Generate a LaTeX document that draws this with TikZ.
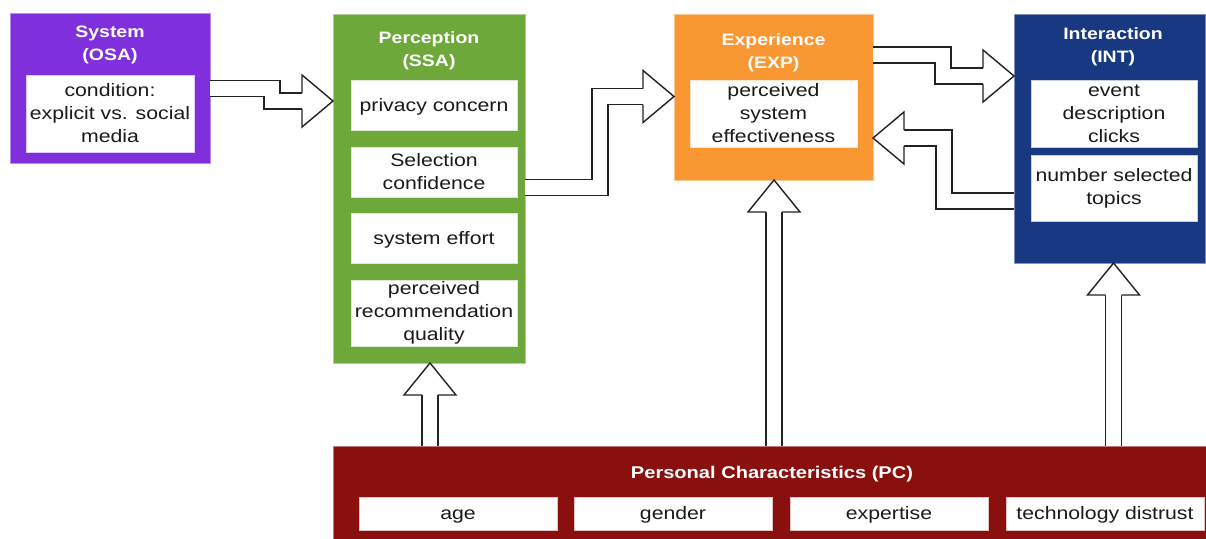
\documentclass[tikz,border=0pt]{standalone}
\usepackage{fontspec}
\setmainfont{Liberation Sans}[FakeStretch=1.18]
\usetikzlibrary{calc}
\definecolor{osac}{HTML}{7F2FDC}
\definecolor{ssac}{HTML}{6FA83A}
\definecolor{expc}{HTML}{F99733}
\definecolor{intc}{HTML}{193882}
\definecolor{pcc}{HTML}{8A1010}
\definecolor{txt}{HTML}{1A1A1A}
\definecolor{arr}{HTML}{222222}
\tikzset{
  bigbox/.style={draw=#1!55!white, fill=#1, line width=1pt, anchor=north west, inner sep=0pt, outer sep=0pt},
  inbox/.style={draw=#1!25!white, fill=white, line width=1pt, anchor=north west, inner sep=0pt, outer sep=0pt,
    align=center, text=txt, font=\fontsize{18}{23}\selectfont},
  oneline/.style={text height=15pt, text depth=3pt},
  ttl/.style={text=white, align=center, inner sep=0pt, font=\bfseries\fontsize{16.5}{23}\selectfont},
  shaft/.style={draw=arr, line width=1.4pt, double=white, double distance=14.4pt, line cap=butt, line join=miter},
  headst/.style={draw=arr, fill=white, line width=1.4pt, line join=miter},
  hR/.pic={\filldraw[headst] (-31,-8) -- (-31,-26) -- (0,0) -- (-31,26) -- (-31,8);},
  hL/.pic={\filldraw[headst] (31,-8) -- (31,-26) -- (0,0) -- (31,26) -- (31,8);},
  hU/.pic={\filldraw[headst] (-8,32) -- (-26,32) -- (0,0) -- (26,32) -- (8,32);},
}
\begin{document}
\begin{tikzpicture}[x=1pt,y=-1pt]
\clip (0,0) rectangle (1206,538);
\fill[white] (0,0) rectangle (1206,538);
% System
\node[bigbox=osac, minimum width=200, minimum height=150] (osa) at (10,13) {};
\node[ttl] (osat) at (110,45) {System\\(OSA)};
\node[inbox=osac, minimum width=168, minimum height=77] (osa1) at (26,75) {condition:\\explicit vs. social\\media};
% Perception
\node[bigbox=ssac, minimum width=192, minimum height=349] (ssa) at (333,14) {};
\node[ttl] (ssat) at (429,50.5) {Perception\\(SSA)};
\node[inbox=ssac, oneline, minimum width=166, minimum height=50] (ssa1) at (351,80) {privacy concern};
\node[inbox=ssac, minimum width=166, minimum height=50] (ssa2) at (351,147) {Selection\\confidence};
\node[inbox=ssac, oneline, minimum width=166, minimum height=50] (ssa3) at (351,213) {system effort};
\node[inbox=ssac, minimum width=166, minimum height=66] (ssa4) at (351,280) {perceived\\recommendation\\quality};
% Experience
\node[bigbox=expc, minimum width=199, minimum height=166] (exp) at (674,14) {};
\node[ttl] (expt) at (773.5,52.5) {Experience\\(EXP)};
\node[inbox=expc, minimum width=167, minimum height=67] (exp1) at (690,80) {perceived\\system\\effectiveness};
% Interaction
\node[bigbox=intc, minimum width=191, minimum height=249] (int) at (1014,14) {};
\node[ttl] (intt) at (1113,47) {Interaction\\(INT)};
\node[inbox=intc, minimum width=166, minimum height=67] (int1) at (1031,80) {event\\description\\clicks};
\node[inbox=intc, minimum width=166, minimum height=66] (int2) at (1031,155) {number selected\\topics};
% Personal characteristics
\node[bigbox=pcc, minimum width=890, minimum height=120] (pc) at (333,446) {};
\node[ttl, font=\bfseries\fontsize{17}{23}\selectfont] (pct) at (772,474) {Personal Characteristics (PC)};
\node[inbox=pcc, oneline, minimum width=198, minimum height=33] (pc1) at (359,497) {age};
\node[inbox=pcc, oneline, minimum width=198, minimum height=33] (pc2) at (574,497) {gender};
\node[inbox=pcc, oneline, minimum width=198, minimum height=33] (pc3) at (790,497) {expertise};
\node[inbox=pcc, oneline, minimum width=198, minimum height=33] (pc4) at (1006,497) {technology distrust};
% arrows
\coordinate (t1) at (ssa.west |- 0,101);
\draw[shaft] (osa.east |- 0,88.5) -- (272,88.5) -- (272,101) -- ($(t1)+(-31,0)$);
\pic at (t1) {hR};
\coordinate (t2) at (exp.west |- 0,96.5);
\draw[shaft] (ssa.east |- 0,187.5) -- (600,187.5) -- (600,96.5) -- ($(t2)+(-31,0)$);
\pic at (t2) {hR};
\coordinate (t3) at (int.west |- 0,76);
\draw[shaft] (exp.east |- 0,55) -- (943,55) -- (943,76) -- ($(t3)+(-31,0)$);
\pic at (t3) {hR};
\coordinate (t4) at (exp.east |- 0,138);
\draw[shaft] (int.west |- 0,201) -- (944,201) -- (944,138) -- ($(t4)+(31,0)$);
\pic at (t4) {hL};
\coordinate (t5) at (ssa.south -| 430,0);
\draw[shaft] (pc.north -| 430,0) -- ($(t5)+(0,32)$);
\pic at (t5) {hU};
\coordinate (t6) at (exp.south -| 774,0);
\draw[shaft] (pc.north -| 774,0) -- ($(t6)+(0,32)$);
\pic at (t6) {hU};
\coordinate (t7) at (int.south -| 1113.5,0);
\draw[shaft] (pc.north -| 1113.5,0) -- ($(t7)+(0,32)$);
\pic at (t7) {hU};
\end{tikzpicture}
\end{document}
